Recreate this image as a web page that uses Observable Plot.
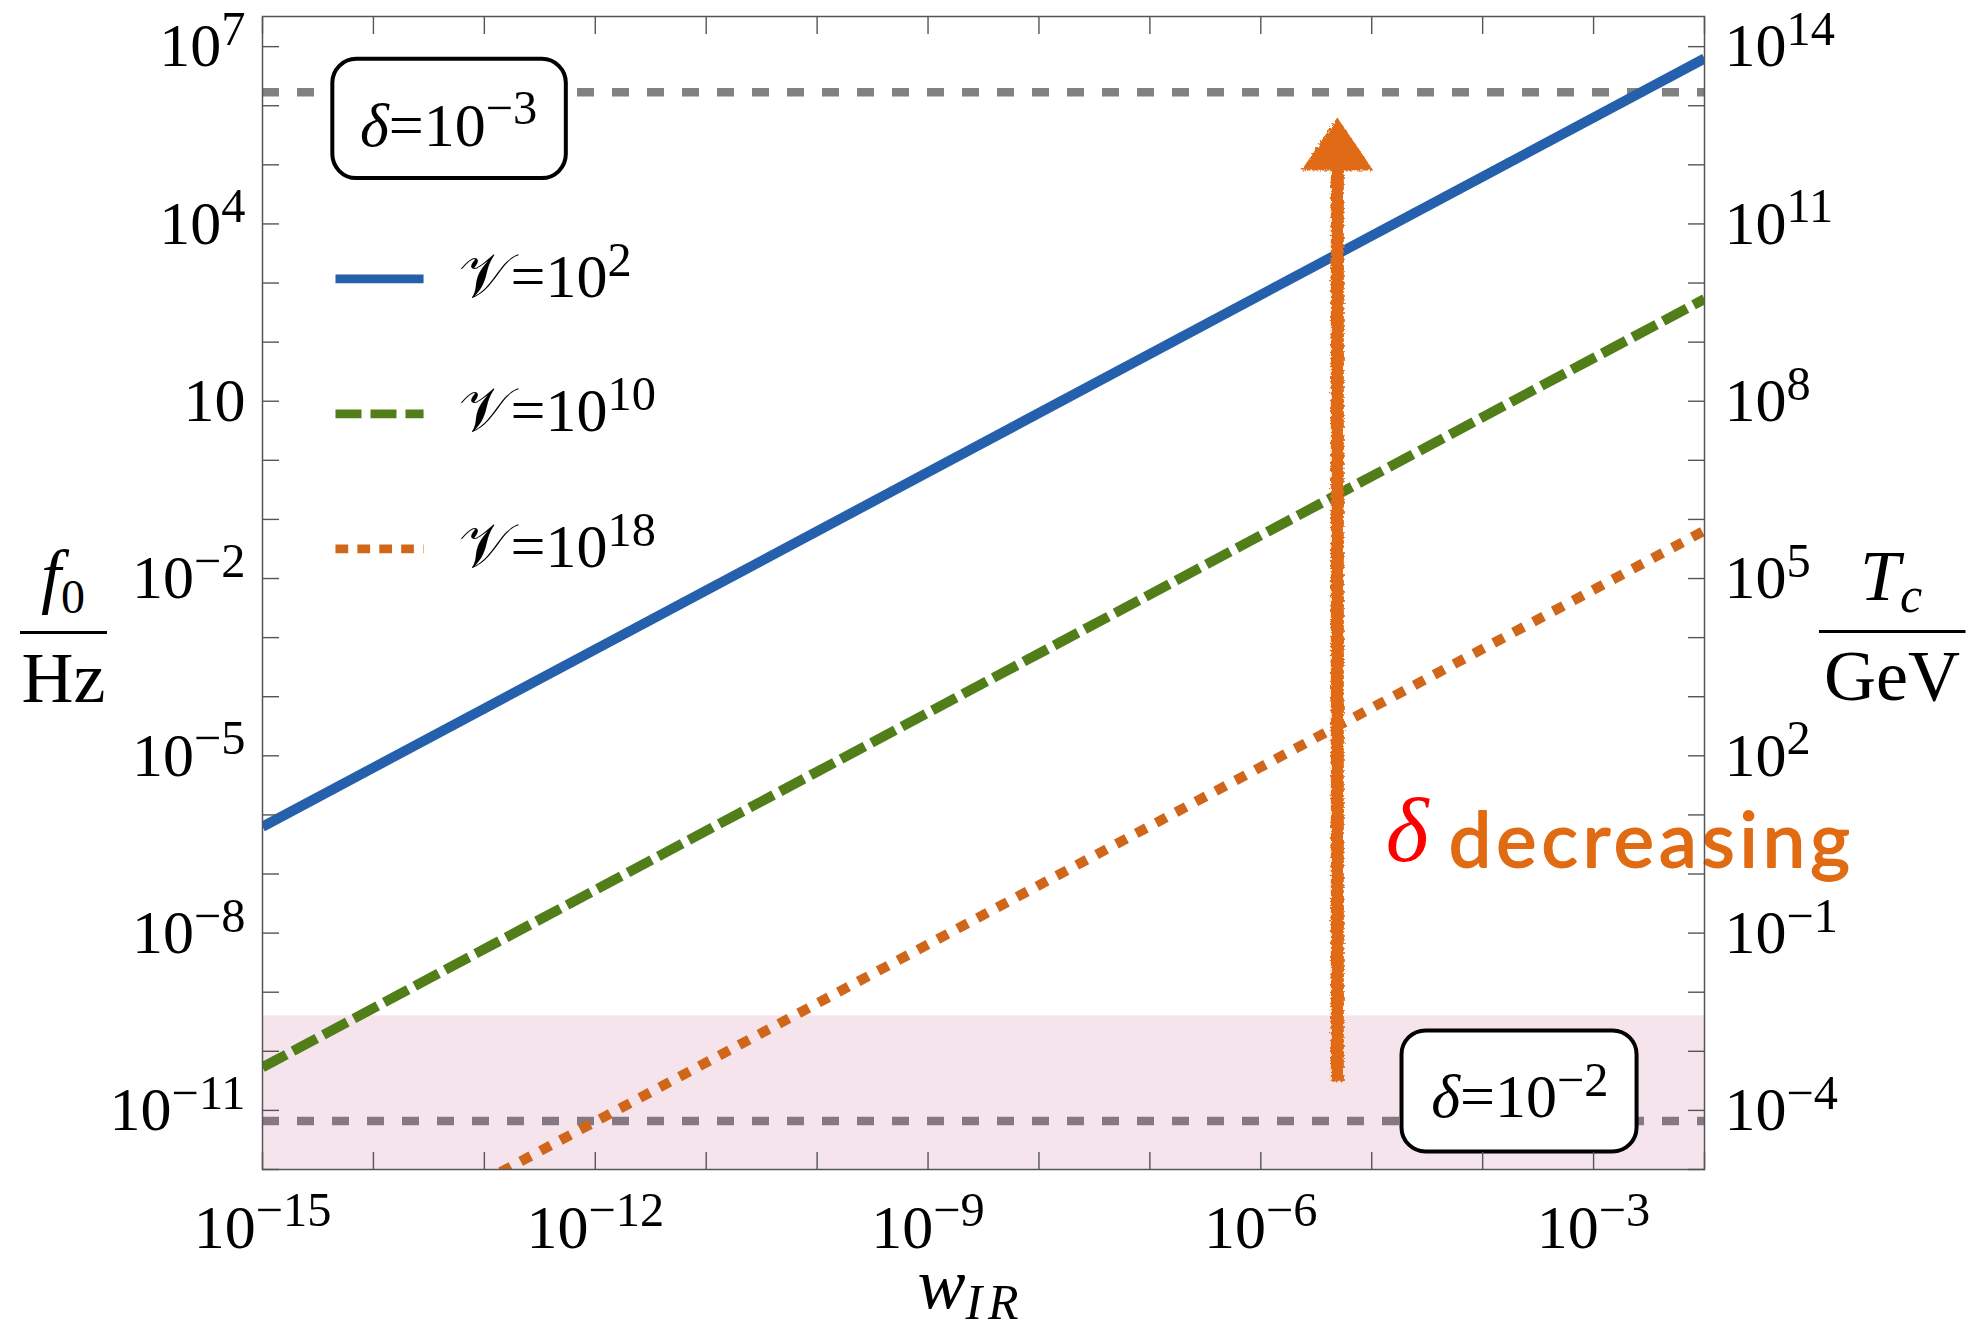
<!DOCTYPE html>
<html><head><meta charset="utf-8">
<script src="https://cdn.jsdelivr.net/npm/d3@7"></script>
<script src="https://cdn.jsdelivr.net/npm/@observablehq/plot@0.6"></script>
<style>body{margin:0;background:#fff;} svg{display:block;}</style>
</head><body>
<div id="chart"></div>
<script>
// ---------- data ----------
const wIR = [1e-15, 1e-2];                       // x extent of the curves
const f0_V1e2  = [10 ** -6.20, 10 ** 6.80];      // V = 10^2
const f0_V1e10 = [10 ** -10.27, 10 ** 2.73];     // V = 10^10
const f0_V1e18 = [10 ** -14.19, 10 ** -1.19];    // V = 10^18
const seriesLabels = ["𝒱=10^2", "𝒱=10^10", "𝒱=10^18"];
const deltaLabels = ["*δ*=10^−3", "*δ*=10^−2"];
const deltaF0 = [10 ** 6.23, 10 ** -11.18];      // horizontal reference lines
const bandF0 = [1e-12, 10 ** -9.4];              // shaded band
const arrowW = 10 ** -5.31, arrowFromF0 = 10 ** -10.52, arrowToF0 = 10 ** 5.80;
const yTickExp = d3.range(-12, 8);
const yLabelExp = [-11, -8, -5, -2, 1, 4, 7];
const yLabelsLeft = ["10^−11", "10^−8", "10^−5", "10^−2", "10", "10^4", "10^7"];
const yLabelsRight = ["10^−4", "10^−1", "10^2", "10^5", "10^8", "10^11", "10^14"];
const xTickExp = d3.range(-15, -1);
const xLabelExp = [-15, -12, -9, -6, -3];
const xLabels = ["10^−15", "10^−12", "10^−9", "10^−6", "10^−3"];
// annotation anchors (data coordinates)
const boxX1 = [10 ** -14.366, 10 ** -4.727], boxX2 = [10 ** -12.261, 10 ** -2.608];
const boxY1 = [10 ** 4.767, 10 ** -11.702], boxY2 = [10 ** 6.785, 10 ** -9.655];
const boxTextX = [10 ** -13.323, 10 ** -3.665], boxTextY = [10 ** 5.325, 10 ** -11.117];
const legendX1 = 10 ** -14.342, legendX2 = 10 ** -13.548, legendTextX = 10 ** -13.233;
const legendLineY = [10 ** 3.069, 10 ** 0.785, 10 ** -1.499];
const legendTextY = [10 ** 2.758, 10 ** 0.491, 10 ** -1.810];
const noteText = ["δ", "decreasing"];
const noteX = [10 ** -4.874, 10 ** -4.306];
const noteY = [10 ** -6.773, 10 ** -6.875];

// ---------- styles ----------
const serif = "'Liberation Serif', 'Times New Roman', serif";
const colors = ["#2560ac", "#527e1a", "#cf661a"];
const dashes = [null, "27,7.5", "11.5,11"];
const legendDashes = [null, "26,9", "12.7,9.2"];
const deltaColors = ["#818181", "#857883"];
const arrowColor = "#e06b12";

const series = [f0_V1e2, f0_V1e10, f0_V1e18].map((f, s) => wIR.map((w, i) => ({w, f: f[i]})));
const boxes = boxX1.map((_, i) => ({x1: boxX1[i], x2: boxX2[i], y1: boxY1[i], y2: boxY2[i], tx: boxTextX[i], ty: boxTextY[i], label: deltaLabels[i]}));
const legend = seriesLabels.map((label, i) => ({label, ly: legendLineY[i], ty: legendTextY[i]}));
const arrow = [{w: arrowW, from: arrowFromF0, to: arrowToF0}];
const label = (exps, labels) => d => labels[exps.indexOf(Math.round(Math.log10(d)))];
const headShape = {draw(ctx) { ctx.moveTo(0, 0); ctx.lineTo(36, 53); ctx.lineTo(-36, 53); ctx.closePath(); }};

const chart = Plot.plot({
  width: 1974, height: 1335,
  marginLeft: 262, marginRight: 270, marginTop: 16, marginBottom: 166,
  style: {fontFamily: serif, fontSize: "62px", background: "white", color: "black"},
  x: {type: "log", domain: [1e-15, 1e-2]},
  y: {type: "log", domain: [1e-12, 10 ** 7.51]},
  marks: [
    Plot.rect([bandF0], {y1: d => d[0], y2: d => d[1], fill: "#f6e4ed"}),
    ...deltaF0.map((f, i) => Plot.ruleY([f], {stroke: deltaColors[i], strokeWidth: 8.5, strokeDasharray: "17,18", strokeLinecap: "butt"})),
    ...series.map((data, s) => Plot.line(data, {x: "w", y: "f", stroke: colors[s], strokeWidth: 10, strokeDasharray: dashes[s], strokeLinecap: "butt", clip: true})),
    Plot.ruleX(arrow, {x: "w", y1: "to", y2: "from", insetTop: 45, stroke: arrowColor, strokeWidth: 13, ariaDescription: "arrow"}),
    Plot.dot(arrow, {x: "w", y: "to", symbol: headShape, r: 10, fill: arrowColor, stroke: null, ariaDescription: "arrow"}),
    Plot.rect(boxes, {x1: "x1", x2: "x2", y1: "y1", y2: "y2", fill: "white", stroke: "black", strokeWidth: 4, rx: 24}),
    Plot.text(boxes, {x: "tx", y: "ty", text: "label", lineAnchor: "bottom", textAnchor: "middle", fontSize: 62, fill: "black"}),
    ...legend.map((d, i) => Plot.link([d], {x1: legendX1, x2: legendX2, y1: "ly", y2: "ly", stroke: colors[i], strokeWidth: 8.7, strokeDasharray: legendDashes[i], strokeLinecap: "butt"})),
    Plot.text(legend, {x: legendTextX, y: "ty", text: "label", lineAnchor: "bottom", textAnchor: "start", fontSize: 62, fill: "black"}),
    Plot.text([0], {x: noteX[0], y: noteY[0], text: [noteText[0]], lineAnchor: "bottom", textAnchor: "start", fontSize: 92, fontStyle: "italic", fill: "#ff0000"}),
    Plot.text([0], {x: noteX[1], y: noteY[1], text: [noteText[1]], lineAnchor: "bottom", textAnchor: "start", fontSize: 76, fontFamily: "Lato, 'Open Sans', sans-serif", fill: arrowColor, stroke: arrowColor, strokeWidth: 1.8, ariaDescription: "note"}),
    // inner ticks on all four sides
    Plot.axisY(yTickExp.map(e => 10 ** e), {anchor: "left", tickSize: 17, dx: 17, tickFormat: () => "", label: null, stroke: "#555", strokeWidth: 1.4}),
    Plot.axisY(yTickExp.map(e => 10 ** e), {anchor: "right", tickSize: 17, dx: -17, tickFormat: () => "", label: null, stroke: "#555", strokeWidth: 1.4}),
    Plot.axisX(xTickExp.map(e => 10 ** e), {anchor: "bottom", tickSize: 17, dy: -17, tickFormat: () => "", label: null, stroke: "#555", strokeWidth: 1.4}),
    Plot.axisX(xTickExp.map(e => 10 ** e), {anchor: "top", tickSize: 17, dy: 17, tickFormat: () => "", label: null, stroke: "#555", strokeWidth: 1.4}),
    // tick labels
    Plot.axisY(yLabelExp.map(e => 10 ** e), {anchor: "left", tickSize: 0, tickPadding: 17, label: null, tickFormat: label(yLabelExp, yLabelsLeft), fill: "black"}),
    Plot.axisY(yLabelExp.map(e => 10 ** e), {anchor: "right", tickSize: 0, tickPadding: 20, label: null, tickFormat: label(yLabelExp, yLabelsRight), fill: "black"}),
    Plot.axisX(xLabelExp.map(e => 10 ** e), {anchor: "bottom", tickSize: 0, tickPadding: 34, label: null, tickFormat: label(xLabelExp, xLabels), fill: "black"}),
    Plot.frame({stroke: "#555", strokeWidth: 1.5})
  ]
});
document.getElementById("chart").appendChild(chart);

// ---------- rich text: *italic*, ^superscript ----------
const NS = "http://www.w3.org/2000/svg";
function rich(el) {
  const s = el.textContent;
  if (!/[\^*_]/.test(s)) return;
  const fs = parseFloat(getComputedStyle(el).fontSize);
  el.textContent = "";
  let italic = false, mode = 0, first = true, buf = "";
  const flush = () => {
    if (!buf) return;
    const t = document.createElementNS(NS, "tspan");
    t.textContent = buf;
    if (italic) t.setAttribute("font-style", "italic");
    if (mode) {
      t.setAttribute("font-size", (fs * 0.78).toFixed(1));
      if (first) { t.setAttribute("dy", (mode === 1 ? -0.345 * fs : 0.2 * fs).toFixed(1)); first = false; }
    }
    el.appendChild(t); buf = "";
  };
  for (const ch of s) {
    if (ch === "*") { flush(); italic = !italic; }
    else if (ch === "^") { flush(); mode = 1; first = true; }
    else if (ch === "_") { flush(); mode = 2; first = true; }
    else buf += ch;
  }
  flush();
}
const svg = d3.select(chart);
svg.selectAll("text").each(function() { rich(this); });

// rough, hand-drawn look for the arrow
const defs = svg.insert("defs", ":first-child");
const filt = defs.append("filter").attr("id", "rough").attr("filterUnits", "userSpaceOnUse")
  .attr("x", 0).attr("y", 0).attr("width", 1974).attr("height", 1335);
filt.append("feTurbulence").attr("type", "fractalNoise").attr("baseFrequency", 0.4).attr("numOctaves", 2).attr("seed", 3);
filt.append("feDisplacementMap").attr("in", "SourceGraphic").attr("scale", 5);
svg.selectAll('g[aria-description="arrow"]').attr("filter", "url(#rough)");
svg.selectAll('g[aria-description="note"] text').attr("letter-spacing", 5).attr("stroke-linejoin", "round");

// axis titles
const ax = svg.append("g").attr("font-family", serif).attr("font-size", 72).attr("fill", "black");
ax.append("text").attr("x", 63).attr("y", 600).attr("text-anchor", "middle")
  .html('<tspan font-style="italic">f</tspan><tspan font-size="48" dy="13">0</tspan>');
ax.append("line").attr("x1", 20).attr("x2", 107).attr("y1", 632.5).attr("y2", 632.5).attr("stroke", "black").attr("stroke-width", 2.8);
ax.append("text").attr("x", 63.5).attr("y", 702).attr("text-anchor", "middle").text("Hz");
ax.append("text").attr("x", 1891).attr("y", 600).attr("text-anchor", "middle")
  .html('<tspan font-style="italic">T</tspan><tspan font-size="50" font-style="italic" dy="12">c</tspan>');
ax.append("line").attr("x1", 1819).attr("x2", 1965.5).attr("y1", 631.5).attr("y2", 631.5).attr("stroke", "black").attr("stroke-width", 2.8);
ax.append("text").attr("x", 1892).attr("y", 700).attr("text-anchor", "middle").text("GeV");
ax.append("text").attr("x", 971).attr("y", 1308).attr("text-anchor", "middle")
  .html('<tspan font-style="italic">w</tspan><tspan font-size="50" font-style="italic" letter-spacing="6" dy="11">IR</tspan>');
</script>
</body></html>
